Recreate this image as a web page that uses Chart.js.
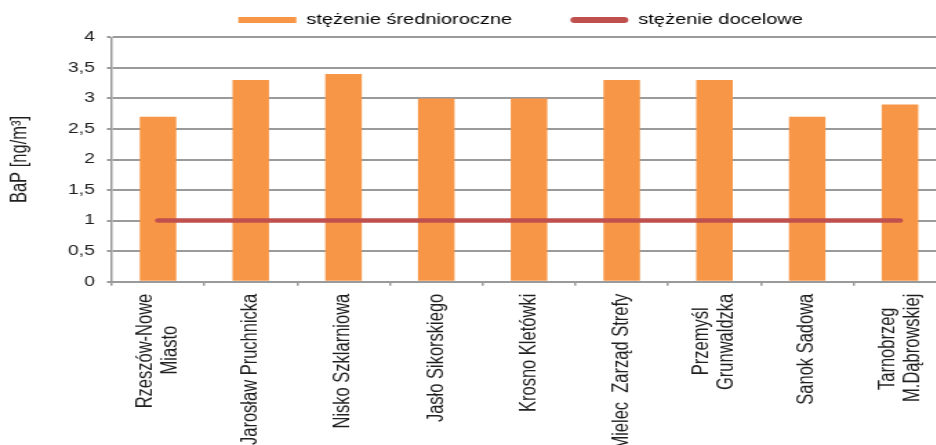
<!DOCTYPE html>
<html><head><meta charset="utf-8">
<script src="https://cdn.jsdelivr.net/npm/chart.js@4"></script>
<style>
html,body{margin:0;padding:0;overflow:hidden;background:#fff;width:936px;height:445px}
#wrap{position:absolute;left:0;top:0;width:688px;height:445px;transform:scaleX(1.38);transform-origin:0 0}
</style></head><body>
<div id="wrap"><canvas id="c"></canvas></div>
<script>
const categories = [
  ["Rzeszów-Nowe","Miasto"],
  ["Jarosław Pruchnicka"],
  ["Nisko Szklarniowa"],
  ["Jasło Sikorskiego"],
  ["Krosno Kletówki"],
  ["Mielec  Zarząd Strefy"],
  ["Przemyśl","Grunwaldzka"],
  ["Sanok Sadowa"],
  ["Tarnobrzeg","M.Dąbrowskiej"]
];
const meanValues = [2.7, 3.3, 3.4, 3.0, 3.0, 3.3, 3.3, 2.7, 2.9];
const targetValues = [1, 1, 1, 1, 1, 1, 1, 1, 1];
const yTickLabels = ["0","0,5","1","1,5","2","2,5","3","3,5","4"];
const seriesNames = ["stężenie średnioroczne", "stężenie docelowe"];
const yTitle = "BaP [ng/m³]";

const FAMILY = "'Liberation Sans', Arial, sans-serif";
Chart.defaults.font.family = FAMILY;
Chart.defaults.color = '#1e1e1e';

const X_FONT_SIZE = 16.5;
const mctx = document.createElement('canvas').getContext('2d');
function centerLines(lines, size) {
  mctx.font = size + "px " + FAMILY;
  const sp = mctx.measureText(' ').width;
  const ws = lines.map(l => mctx.measureText(l).width);
  const mx = Math.max(...ws);
  return lines.map((l, i) => l + ' '.repeat(Math.max(0, Math.round((mx - ws[i]) / 2 / sp))));
}

const shiftMultiline = {
  id: 'shiftMultiline',
  beforeDraw(chart) {
    const sc = chart.scales.x;
    const items = sc.getLabelItems();
    items.forEach(it => {
      const n = Array.isArray(it.label) ? it.label.length : 1;
      if (n > 1 && !it._shifted) {
        it.options.translation[0] -= (n - 1) * it.font.lineHeight / 2;
        it._shifted = true;
      }
    });
  }
};

new Chart(document.getElementById('c'), {
  type: 'bar',
  data: {
    labels: categories,
    datasets: [
      {
        label: seriesNames[0],
        data: meanValues,
        backgroundColor: '#F79646',
        borderWidth: 0,
        barPercentage: 0.394,
        categoryPercentage: 1.0,
        order: 2
      },
      {
        type: 'line',
        label: seriesNames[1],
        data: targetValues,
        borderColor: '#C0504D',
        backgroundColor: '#C0504D',
        borderWidth: 4.5,
        borderCapStyle: 'round',
        pointRadius: 0,
        pointHoverRadius: 0,
        tension: 0,
        order: 1
      }
    ]
  },
  options: {
    responsive: true,
    maintainAspectRatio: false,
    animation: false,
    events: [],
    layout: { padding: { top: 2.8, left: 0, right: 0, bottom: 0 } },
    plugins: {
      tooltip: { enabled: false },
      legend: {
        position: 'top',
        fullSize: false,
        labels: {
          boxWidth: 42,
          boxHeight: 6,
          padding: 10,
          useBorderRadius: true,
          color: '#1e1e1e',
          font: { size: 14.5 },
          generateLabels(chart) {
            const extra = [8, 3];
            return chart.data.datasets.map((ds, i) => ({
              text: ds.label + ' '.repeat(extra[i]),
              fillStyle: ds.backgroundColor,
              strokeStyle: ds.backgroundColor,
              lineWidth: 0,
              borderRadius: i === 1 ? 3 : 0,
              hidden: false,
              datasetIndex: i
            }));
          }
        }
      }
    },
    scales: {
      x: {
        offset: true,
        grid: {
          display: true,
          drawOnChartArea: false,
          drawTicks: true,
          tickLength: 4,
          color: '#9a9a9a',
          lineWidth: 1.5,
          offset: true
        },
        border: { display: true, color: '#9a9a9a', width: 2 },
        ticks: {
          autoSkip: false,
          minRotation: 90,
          maxRotation: 90,
          padding: 8,
          color: '#1e1e1e',
          font: { size: X_FONT_SIZE, lineHeight: 1.1 },
          callback: (v, i) => centerLines(categories[i], X_FONT_SIZE)
        },
        afterFit(scale) {
          scale.height = 163.3;
          scale.paddingLeft = 0;
          scale.paddingRight = 0;
        }
      },
      y: {
        min: 0,
        max: 4,
        ticks: {
          stepSize: 0.5,
          padding: 8.7,
          color: '#1e1e1e',
          font: { size: 14 },
          callback: (v, i) => yTickLabels[i]
        },
        grid: {
          color: '#9a9a9a',
          lineWidth: 2,
          tickLength: 3.4,
          drawTicks: true
        },
        border: { display: true, color: '#9a9a9a', width: 1.5 },
        title: {
          display: true,
          text: yTitle,
          color: '#1e1e1e',
          font: { size: 16.5, lineHeight: 1.2 },
          padding: { top: 5, bottom: 0 }
        },
        afterFit(scale) {
          scale.width = 80.9;
        }
      }
    }
  },
  plugins: [shiftMultiline]
});
</script>
</body></html>
